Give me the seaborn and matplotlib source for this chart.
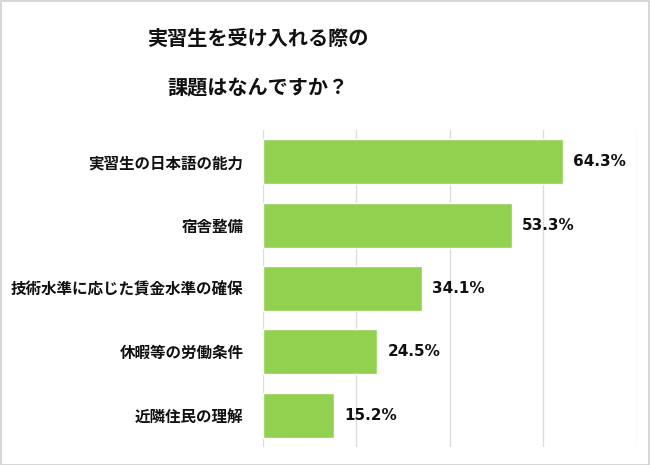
import matplotlib
matplotlib.use("Agg")
import matplotlib.pyplot as plt
import seaborn as sns
import pandas as pd
from matplotlib.patches import Rectangle

# data
categories = ["実習生の日本語の能力", "宿舎整備", "技術水準に応じた賃金水準の確保",
              "休暇等の労働条件", "近隣住民の理解"]
values = [64.3, 53.3, 34.1, 24.5, 15.2]
title_lines = ["実習生を受け入れる際の", "課題はなんですか？"]

df = pd.DataFrame({"item": categories, "pct": values})

sns.set_theme(style="white")
plt.rcParams["font.family"] = ["Noto Sans CJK JP", "DejaVu Sans"]

fig = plt.figure(figsize=(6.5, 4.65), dpi=100)
ax = fig.add_axes([263 / 650, 1 - 447 / 465, (636.7 - 263) / 650, (447 - 130) / 465])

sns.barplot(data=df, y="item", x="pct", orient="h", color="#92D050",
            saturation=1, width=0.71, ax=ax)

ax.set_xlim(0, 80)
ax.set_ylim(4.5, -0.5)
ax.set_xticks([0, 20, 40, 60, 80])
ax.xaxis.grid(True, color="#dcdcdc", lw=1)
ax.set_axisbelow(True)
ax.tick_params(axis="x", length=0, labelbottom=False)
ax.tick_params(axis="y", length=0, pad=14)
for lab in ax.get_yticklabels():
    lab.set_fontsize(11.2)
    lab.set_fontweight("bold")
    lab.set_color("#111111")
ax.set_xlabel("")
ax.set_ylabel("")
for s in ax.spines.values():
    s.set_visible(False)

# value labels
for i, v in enumerate(values):
    ax.text(v + 2.1, i, f"{v:.1f}%", va="center", ha="left", fontsize=11,
            fontweight="bold", family="DejaVu Sans", color="#111111")

# title, two lines with wide spacing
fig.text(258 / 650, 1 - 38 / 465, title_lines[0], ha="center", va="center",
         fontsize=14.5, fontweight="bold", color="#111111")
fig.text(258 / 650, 1 - 87 / 465, title_lines[1], ha="center", va="center",
         fontsize=14.5, fontweight="bold", color="#111111")

# light frame around the picture
fig.patches.append(Rectangle((0.001, 0.001), 0.997, 0.997, transform=fig.transFigure,
                             fill=False, edgecolor="#cfcfcf", lw=1.2))

fig.savefig("out.png", dpi=100)
